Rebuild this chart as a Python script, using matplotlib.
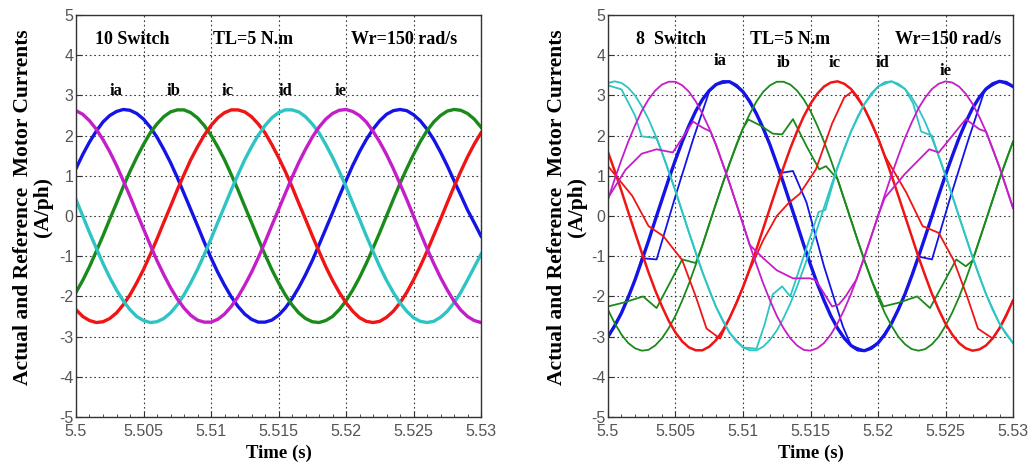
import numpy as np
import matplotlib.pyplot as plt
from matplotlib.ticker import MultipleLocator

# sample instants, ms after t = 5.5 s
t_ms = np.arange(0, 30.5, 0.5)

# ---- 10 switch drive: phase currents (A) read every 0.5 ms ----
ia_10 = [1.18, 1.53, 1.84, 2.11, 2.34, 2.50, 2.60, 2.65, 2.63, 2.55, 2.41, 2.21, 1.96, 1.66, 1.33, 0.96, 0.56, 0.16,
         -0.24, -0.65, -1.04, -1.40, -1.72, -2.01, -2.25, -2.44, -2.57, -2.64, -2.64, -2.59, -2.47, -2.29, -2.06,
         -1.78, -1.46, -1.11, -0.72, -0.32, 0.08, 0.49, 0.88, 1.26, 1.60, 1.90, 2.16, 2.37, 2.53, 2.62, 2.65, 2.62,
         2.52, 2.37, 2.16, 1.90, 1.59, 1.25, 0.88, 0.52, 0.15, -0.17, -0.50]
ib_10 = [-1.90, -1.60, -1.26, -0.88, -0.49, -0.08, 0.32, 0.73, 1.11, 1.46, 1.78, 2.07, 2.29, 2.47, 2.59, 2.64, 2.64,
         2.57, 2.44, 2.25, 2.01, 1.72, 1.40, 1.03, 0.65, 0.24, -0.16, -0.57, -0.96, -1.33, -1.66, -1.96, -2.21, -2.41,
         -2.55, -2.63, -2.65, -2.60, -2.50, -2.33, -2.11, -1.84, -1.53, -1.18, -0.80, -0.41, 0.00, 0.41, 0.81, 1.18,
         1.53, 1.85, 2.12, 2.34, 2.50, 2.61, 2.65, 2.63, 2.55, 2.41, 2.21]
ic_10 = [-2.33, -2.50, -2.60, -2.65, -2.63, -2.55, -2.41, -2.21, -1.96, -1.66, -1.33, -0.96, -0.57, -0.16, 0.24, 0.65,
         1.03, 1.40, 1.72, 2.01, 2.25, 2.44, 2.57, 2.64, 2.64, 2.59, 2.47, 2.29, 2.07, 1.78, 1.46, 1.11, 0.73, 0.32,
         -0.08, -0.49, -0.88, -1.26, -1.60, -1.90, -2.16, -2.37, -2.53, -2.62, -2.65, -2.62, -2.52, -2.37, -2.16,
         -1.90, -1.59, -1.25, -0.88, -0.48, -0.08, 0.33, 0.73, 1.11, 1.47, 1.79, 2.07]
id_10 = [0.41, 0.00, -0.41, -0.80, -1.18, -1.53, -1.84, -2.11, -2.33, -2.50, -2.60, -2.65, -2.63, -2.55, -2.41, -2.21,
         -1.96, -1.66, -1.33, -0.96, -0.57, -0.16, 0.24, 0.65, 1.03, 1.40, 1.72, 2.01, 2.25, 2.44, 2.57, 2.64, 2.64,
         2.59, 2.47, 2.29, 2.07, 1.78, 1.46, 1.11, 0.73, 0.32, -0.08, -0.49, -0.88, -1.26, -1.60, -1.90, -2.16, -2.37,
         -2.53, -2.62, -2.65, -2.62, -2.52, -2.37, -2.16, -1.90, -1.59, -1.27, -0.95]
ie_10 = [2.62, 2.53, 2.37, 2.16, 1.90, 1.60, 1.26, 0.88, 0.49, 0.08, -0.32, -0.72, -1.11, -1.46, -1.78, -2.06, -2.29,
         -2.47, -2.59, -2.64, -2.64, -2.57, -2.44, -2.25, -2.01, -1.72, -1.40, -1.04, -0.65, -0.24, 0.16, 0.56, 0.96,
         1.33, 1.66, 1.96, 2.21, 2.41, 2.55, 2.63, 2.65, 2.60, 2.50, 2.34, 2.11, 1.84, 1.53, 1.18, 0.80, 0.41, 0.00,
         -0.41, -0.81, -1.18, -1.53, -1.84, -2.12, -2.34, -2.50, -2.60, -2.65]

# ---- 8 switch drive: reference currents read every 0.5 ms ----
ia_ref8 = [-3.00, -2.73, -2.41, -2.02, -1.59, -1.11, -0.62, -0.10, 0.41, 0.92, 1.40, 1.85, 2.25, 2.61, 2.90, 3.12,
           3.27, 3.34, 3.34, 3.25, 3.09, 2.85, 2.54, 2.18, 1.77, 1.30, 0.82, 0.31, -0.20, -0.72, -1.21, -1.68, -2.10,
           -2.48, -2.79, -3.04, -3.22, -3.33, -3.35, -3.29, -3.16, -2.95, -2.67, -2.33, -1.94, -1.49, -1.01, -0.51,
           0.00, 0.52, 1.02, 1.49, 1.94, 2.33, 2.68, 2.95, 3.16, 3.29, 3.35, 3.32, 3.22]
ib_ref8 = [-2.33, -2.67, -2.95, -3.16, -3.29, -3.35, -3.33, -3.22, -3.04, -2.79, -2.48, -2.10, -1.68, -1.21, -0.72,
           -0.20, 0.31, 0.82, 1.30, 1.77, 2.18, 2.54, 2.85, 3.09, 3.25, 3.34, 3.34, 3.27, 3.12, 2.90, 2.61, 2.25, 1.85,
           1.40, 0.92, 0.41, -0.10, -0.62, -1.11, -1.59, -2.02, -2.41, -2.73, -3.00, -3.19, -3.31, -3.35, -3.31,
           -3.19, -3.00, -2.73, -2.40, -2.02, -1.58, -1.11, -0.61, -0.10, 0.41, 0.92, 1.40, 1.85]
ic_ref8 = [1.59, 1.12, 0.62, 0.10, -0.41, -0.91, -1.40, -1.85, -2.25, -2.61, -2.90, -3.12, -3.27, -3.34, -3.34, -3.25,
           -3.09, -2.85, -2.54, -2.18, -1.77, -1.31, -0.82, -0.31, 0.20, 0.71, 1.21, 1.68, 2.10, 2.48, 2.79, 3.04,
           3.22, 3.32, 3.35, 3.29, 3.16, 2.95, 2.67, 2.33, 1.94, 1.49, 1.01, 0.51, 0.00, -0.51, -1.02, -1.49, -1.94,
           -2.33, -2.68, -2.95, -3.16, -3.29, -3.35, -3.32, -3.22, -3.04, -2.79, -2.48, -2.10]
id_ref8 = [3.31, 3.35, 3.31, 3.19, 3.00, 2.73, 2.41, 2.02, 1.58, 1.11, 0.62, 0.10, -0.41, -0.92, -1.40, -1.85, -2.26,
           -2.61, -2.90, -3.12, -3.27, -3.34, -3.34, -3.25, -3.08, -2.85, -2.54, -2.18, -1.76, -1.30, -0.82, -0.31,
           0.21, 0.72, 1.21, 1.68, 2.10, 2.48, 2.79, 3.05, 3.22, 3.33, 3.35, 3.29, 3.16, 2.95, 2.67, 2.33, 1.93, 1.49,
           1.01, 0.51, -0.01, -0.52, -1.02, -1.50, -1.94, -2.34, -2.68, -2.95, -3.16]
ie_ref8 = [0.41, 0.92, 1.40, 1.85, 2.25, 2.61, 2.90, 3.12, 3.27, 3.34, 3.34, 3.25, 3.09, 2.85, 2.54, 2.18, 1.77, 1.30,
           0.82, 0.31, -0.20, -0.72, -1.21, -1.68, -2.10, -2.48, -2.79, -3.04, -3.22, -3.33, -3.35, -3.29, -3.16,
           -2.95, -2.67, -2.33, -1.94, -1.49, -1.01, -0.51, 0.00, 0.52, 1.02, 1.49, 1.94, 2.33, 2.68, 2.95, 3.16, 3.29,
           3.35, 3.32, 3.22, 3.04, 2.79, 2.47, 2.10, 1.67, 1.21, 0.71, 0.20]

# ---- 8 switch drive: actual currents (time in ms, value in A) ----
ia_t8 = [0, 1, 2, 2.5, 3.6, 5.0, 6.3, 7.5, 8, 9, 10, 11, 12, 12.6, 12.95, 13.7, 14.7, 16.0, 17.4, 18.0, 19, 20, 21,
         22, 23.0, 24.0, 25.3, 26.6, 27.9, 29, 30]
ia_v8 = [-3.00, -2.41, -1.59, -1.05, -1.08, 0.50, 1.90, 3.10, 3.27, 3.34, 3.09, 2.54, 1.77, 1.20, 1.08, 1.12, 0.34,
         -1.25, -2.75, -3.22, -3.35, -3.16, -2.67, -1.94, -1.01, -1.08, 0.40, 1.80, 3.13, 3.35, 3.22]
ib_t8 = [0, 1.2, 2.6, 3.6, 5.5, 6.5, 7, 8, 9, 10, 10.4, 11.3, 12.2, 12.9, 13.7, 14.7, 15.65, 16.15, 17, 18, 19,
         19.6, 20.4, 21.6, 22.9, 23.85, 25.8, 26.5, 27, 28, 29, 30]
ib_v8 = [-2.25, -2.15, -2.00, -2.29, -1.08, -1.17, -0.72, 0.31, 1.30, 2.18, 2.40, 2.25, 2.05, 2.03, 2.41, 1.74,
         1.16, 1.24, 0.92, -0.10, -1.11, -1.65, -2.25, -2.15, -2.00, -2.29, -1.08, -1.25, -1.11, -0.10, 0.92, 1.85]
ic_t8 = [0, 1.8, 3.0, 4.1, 5.5, 6.5, 7.3, 8.3, 9, 10, 10.5, 11.5, 12.5, 13.4, 14.2, 15.4, 16.6, 17.5, 18.1, 19, 20,
         20.5, 22.1, 23.3, 24.5, 25.6, 26.6, 27.4, 28.5, 29, 30]
ic_v8 = [1.24, 0.50, -0.25, -0.50, -1.10, -2.00, -2.80, -3.05, -2.54, -1.77, -1.34, -0.60, 0.00, 0.33, 0.55, 1.16,
         2.30, 2.95, 3.10, 2.67, 1.94, 1.50, 0.58, -0.25, -0.42, -1.10, -2.00, -2.80, -3.05, -2.79, -2.10]
id_t8 = [0, 1, 2, 2.5, 3.3, 3.6, 4, 5, 6, 7, 8, 9, 10, 11, 11.6, 12.2, 12.9, 13.5, 14.6, 15.6, 16.1, 17, 18, 19,
         20, 21, 22, 22.6, 23.2, 24.0, 24.4, 25, 26, 27, 28, 29, 30]
id_v8 = [3.25, 3.15, 2.50, 1.98, 1.95, 1.94, 1.58, 0.62, -0.41, -1.40, -2.26, -2.90, -3.27, -3.30, -2.70, -1.95,
         -1.75, -2.00, -0.90, 0.10, 0.15, 1.21, 2.10, 2.79, 3.22, 3.35, 3.16, 2.80, 2.10, 2.00, 1.58, 1.01, -0.01,
         -1.02, -1.94, -2.68, -3.16]
ie_t8 = [0, 1.3, 2.5, 3.6, 4.8, 6.3, 7.0, 7.6, 8, 9, 10, 10.5, 11.5, 12.5, 13.7, 15.0, 15.4, 16.6, 17.1, 17.6, 18.4,
         19, 20, 20.5, 22.0, 23.8, 24.5, 26.5, 27.5, 28, 29, 30]
ie_v8 = [0.45, 1.15, 1.55, 1.66, 1.58, 2.35, 2.20, 2.10, 1.77, 0.82, -0.20, -0.72, -1.05, -1.35, -1.55, -1.55, -1.60,
         -2.25, -2.20, -2.00, -1.58, -1.01, 0.00, 0.45, 1.05, 1.66, 1.58, 2.41, 2.16, 2.10, 1.21, 0.20]

phase_names = ['ia', 'ib', 'ic', 'id', 'ie']
colors = ['#1414e6', '#1a8a1a', '#f01414', '#2ec4c4', '#c41ec8']

label_x_10 = [5.5030, 5.5072, 5.5112, 5.5155, 5.5196]
label_y_10 = [3.1, 3.1, 3.1, 3.1, 3.1]
label_x_8 = [5.5083, 5.5130, 5.5168, 5.5203, 5.5250]
label_y_8 = [3.85, 3.8, 3.8, 3.8, 3.6]

serif = 'Liberation Serif'
sans = 'Liberation Sans'


def t_sec(ms):
    return 5.5 + np.asarray(ms) / 1000.0


def style_axes(ax):
    ax.set_xlim(5.5, 5.53)
    ax.set_ylim(-5, 5)
    ax.xaxis.set_minor_locator(MultipleLocator(0.001))
    ax.set_xticks(np.arange(5.5, 5.5301, 0.005))
    ax.set_xticklabels(['5.5', '5.505', '5.51', '5.515', '5.52', '5.525', '5.53'])
    ax.set_yticks(range(-5, 6))
    ax.set_yticklabels([str(v) for v in range(-5, 6)])
    ax.tick_params(which='both', direction='in', top=False, right=False, colors='#333333')
    ax.tick_params(which='major', length=4, labelsize=11.5, labelcolor='#555555')
    ax.tick_params(axis='x', which='major', pad=5)
    ax.tick_params(axis='y', which='major', pad=2)
    ax.tick_params(which='minor', length=2)
    for lab in ax.get_xticklabels() + ax.get_yticklabels():
        lab.set_family(sans)
    ax.grid(True, which='major', color='#3a3a3a', linestyle=(0, (1.5, 2.5)), linewidth=0.8)
    for s in ax.spines.values():
        s.set_color('#333333')
        s.set_linewidth(1.0)
    ax.set_xlabel('Time (s)', family=serif, fontweight='bold', fontsize=13.5, labelpad=4)


fig = plt.figure(figsize=(10.34, 4.72), dpi=100)
ax1 = fig.add_axes([0.0735, 0.1165, 0.3917, 0.8517])
ax2 = fig.add_axes([0.588, 0.1165, 0.3917, 0.8517])

# left panel: 10 switch
for vals, c in zip([ia_10, ib_10, ic_10, id_10, ie_10], colors):
    ax1.plot(t_sec(t_ms), vals, color=c, lw=2.4, solid_joinstyle='round')
style_axes(ax1)
ax1.text(5.5042, 4.4, '10 Switch', family=serif, fontweight='bold', fontsize=13, ha='center', va='center')
ax1.text(5.5131, 4.4, 'TL=5 N.m', family=serif, fontweight='bold', fontsize=13, ha='center', va='center')
ax1.text(5.5243, 4.4, 'Wr=150 rad/s', family=serif, fontweight='bold', fontsize=13, ha='center', va='center')
for name, x, y in zip(phase_names, label_x_10, label_y_10):
    ax1.text(x, y, name, family=serif, fontweight='bold', fontsize=12, ha='center', va='center')

# right panel: 8 switch
refs = [ia_ref8, ib_ref8, ic_ref8, id_ref8, ie_ref8]
acts = [(ia_t8, ia_v8), (ib_t8, ib_v8), (ic_t8, ic_v8), (id_t8, id_v8), (ie_t8, ie_v8)]
ref_lw = [2.4, 1.3, 1.8, 1.3, 1.3]
for ref, (at, av), c, lw in zip(refs, acts, colors, ref_lw):
    ax2.plot(t_sec(t_ms), ref, color=c, lw=lw, solid_joinstyle='round')
    ax2.plot(t_sec(at), av, color=c, lw=1.3, solid_joinstyle='round')
style_axes(ax2)
ax2.text(5.5047, 4.4, '8  Switch', family=serif, fontweight='bold', fontsize=13, ha='center', va='center')
ax2.text(5.5135, 4.4, 'TL=5 N.m', family=serif, fontweight='bold', fontsize=13, ha='center', va='center')
ax2.text(5.5252, 4.4, 'Wr=150 rad/s', family=serif, fontweight='bold', fontsize=13, ha='center', va='center')
for name, x, y in zip(phase_names, label_x_8, label_y_8):
    ax2.text(x, y, name, family=serif, fontweight='bold', fontsize=12, ha='center', va='center')

ylab = 'Actual and Reference  Motor Currents\n(A/ph)'
fig.text(33 / 1034, 1 - 207 / 472, ylab, rotation=90, family=serif, fontweight='bold', fontsize=15.5,
         ha='center', va='center', linespacing=1.05)
fig.text(567 / 1034, 1 - 207 / 472, ylab, rotation=90, family=serif, fontweight='bold', fontsize=15.5,
         ha='center', va='center', linespacing=1.05)

fig.savefig('out.png', dpi=100)
